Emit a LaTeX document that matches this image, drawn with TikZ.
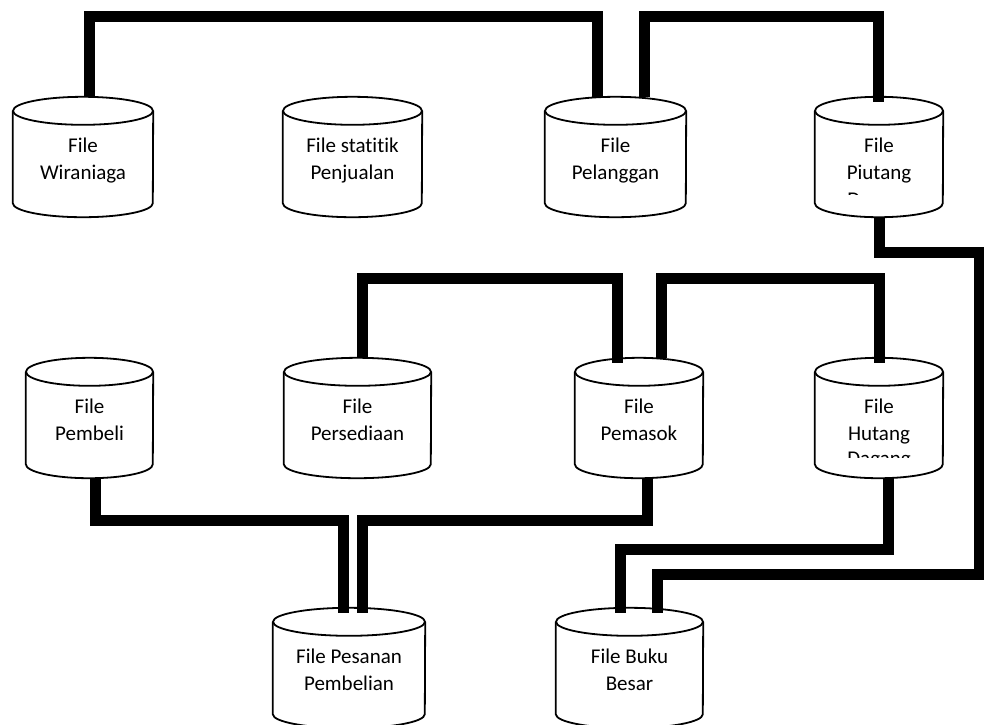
\documentclass[tikz,border=0pt]{standalone}
\usepackage{fontspec}
\setmainfont{Carlito}[Ligatures = NoCommon]

\begin{document}
\begin{tikzpicture}[
	x = 1pt, y = -1pt,
	every node/.style = {font = \fontsize{21}{27}\selectfont, align = center},
	db/.style = {minimum width = #1, minimum height = 120pt, inner sep = 0pt,
		text height = 44pt, text depth = 0pt},
	rim/.style = {line width = 1.8pt},
	conn/.style = {line width = 11pt, line join = miter}
	]
	\useasboundingbox (0,0) rectangle (984,724);
	\clip (0,0) rectangle (984,724);
	% top row
	\node[db = 140pt] (wir) at (83,157) {File\\Wiraniaga};
	\node[db = 139pt] (stat) at (352.5,157) {File statitik\\Penjualan};
	\node[db = 141pt] (pel) at (615.5,157) {File\\Pelanggan};
	\node[db = 128pt] (piu) at (879,157) {File\\Piutang};
	% middle row
	\node[db = 127pt] (pemb) at (89.5,418) {File\\Pembeli};
	\node[db = 147pt] (pers) at (357.5,418) {File\\Persediaan};
	\node[db = 128pt] (pemas) at (639,418) {File\\Pemasok};
	\node[db = 128pt] (hut) at (879,418) {File\\Hutang};
	% bottom row
	\node[db = 152pt] (pes) at (349,668) {File Pesanan\\Pembelian};
	\node[db = 147pt] (buku) at (629.5,668) {File Buku\\Besar};
	% cylinder outlines
	\foreach \n/\w in {wir/140, stat/139, pel/141, piu/128, pemb/127,
		pers/147, pemas/128, hut/128, pes/152, buku/147}
	{
		\draw[rim] ([yshift=-14pt]\n.north) ellipse [x radius = \w*0.5pt, y radius = 14pt];
		\draw[rim] ([yshift=-14pt]\n.north west) -- ([yshift=14pt]\n.south west)
			arc [start angle = 180, end angle = 360, x radius = \w*0.5pt, y radius = 14pt]
			-- ([yshift=-14pt]\n.north east);
	}
	% cut off third lines
	\begin{scope}
		\clip (840,180) rectangle (920,194.5);
		\node[anchor = base] (piu3) at (879,206) {Dagang};
	\end{scope}
	\begin{scope}
		\clip (840,440) rectangle (920,457);
		\node[anchor = base] (hut3) at (879,465) {Dagang};
	\end{scope}
	% connectors
	\draw[conn] ([xshift=6pt]wir.north) |- (597,16) -- ([xshift=-18.5pt]pel.north);
	\draw[conn] ([xshift=28.5pt]pel.north) |- (878,16) -- ([xshift=-1pt,yshift=-5pt]piu.north);
	\draw[conn] (piu.south) |- (979,252) |- (657,574) -- ([xshift=27.5pt,yshift=-5pt]buku.north);
	\draw[conn] ([xshift=4.5pt]pers.north) |- (617,278) -- ([xshift=-22pt,yshift=-5pt]pemas.north);
	\draw[conn] ([xshift=22pt]pemas.north) |- (879,278) -- ([yshift=-5pt]hut.north);
	\draw[conn] ([xshift=5.5pt]pemb.south) |- (343,520) -- ([xshift=-6pt,yshift=-5pt]pes.north);
	\draw[conn] ([xshift=8pt]pemas.south) |- (362,520) -- ([xshift=13pt,yshift=-5pt]pes.north);
	\draw[conn] ([xshift=9pt]hut.south) |- (620,549) -- ([xshift=-9.5pt,yshift=-5pt]buku.north);
\end{tikzpicture}
\end{document}
